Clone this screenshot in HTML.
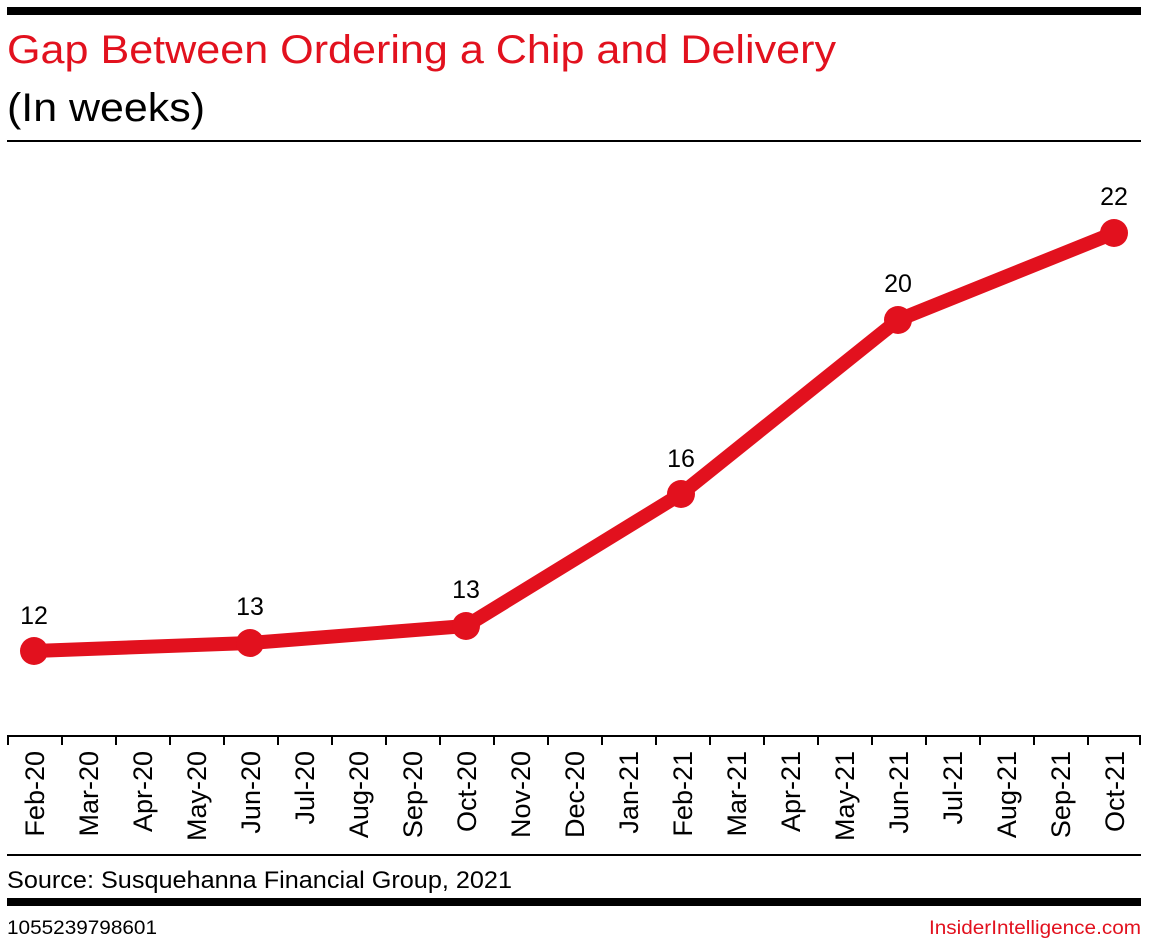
<!DOCTYPE html>
<html><head><style>body{margin:0;background:#fff}svg{display:block}</style></head><body>
<svg width="1149" height="948" xmlns="http://www.w3.org/2000/svg" font-family="Liberation Sans, sans-serif">
<rect x="7" y="7" width="1134" height="8" fill="#000"/>
<text x="7" y="63" font-size="40" fill="#e2111e" textLength="829" lengthAdjust="spacingAndGlyphs">Gap Between Ordering a Chip and Delivery</text>
<text x="7" y="121" font-size="40" fill="#000" textLength="198" lengthAdjust="spacingAndGlyphs">(In weeks)</text>
<rect x="7" y="140" width="1134" height="2" fill="#000"/>
<rect x="7" y="735" width="1134" height="2" fill="#000"/>
<g stroke="#000" stroke-width="2">
<line x1="8" y1="735" x2="8" y2="745"/><line x1="62" y1="735" x2="62" y2="745"/><line x1="116" y1="735" x2="116" y2="745"/><line x1="170" y1="735" x2="170" y2="745"/><line x1="224" y1="735" x2="224" y2="745"/><line x1="278" y1="735" x2="278" y2="745"/><line x1="332" y1="735" x2="332" y2="745"/><line x1="386" y1="735" x2="386" y2="745"/><line x1="440" y1="735" x2="440" y2="745"/><line x1="494" y1="735" x2="494" y2="745"/><line x1="548" y1="735" x2="548" y2="745"/><line x1="602" y1="735" x2="602" y2="745"/><line x1="656" y1="735" x2="656" y2="745"/><line x1="710" y1="735" x2="710" y2="745"/><line x1="764" y1="735" x2="764" y2="745"/><line x1="818" y1="735" x2="818" y2="745"/><line x1="872" y1="735" x2="872" y2="745"/><line x1="926" y1="735" x2="926" y2="745"/><line x1="980" y1="735" x2="980" y2="745"/><line x1="1034" y1="735" x2="1034" y2="745"/><line x1="1088" y1="735" x2="1088" y2="745"/><line x1="1140" y1="735" x2="1140" y2="745"/>
</g>
<g font-size="27" fill="#000" text-anchor="end">
<text transform="translate(44,751) rotate(-90)">Feb-20</text>
<text transform="translate(98,751) rotate(-90)">Mar-20</text>
<text transform="translate(152,751) rotate(-90)">Apr-20</text>
<text transform="translate(206,751) rotate(-90)">May-20</text>
<text transform="translate(260,751) rotate(-90)">Jun-20</text>
<text transform="translate(314,751) rotate(-90)">Jul-20</text>
<text transform="translate(368,751) rotate(-90)">Aug-20</text>
<text transform="translate(422,751) rotate(-90)">Sep-20</text>
<text transform="translate(476,751) rotate(-90)">Oct-20</text>
<text transform="translate(530,751) rotate(-90)">Nov-20</text>
<text transform="translate(584,751) rotate(-90)">Dec-20</text>
<text transform="translate(638,751) rotate(-90)">Jan-21</text>
<text transform="translate(692,751) rotate(-90)">Feb-21</text>
<text transform="translate(746,751) rotate(-90)">Mar-21</text>
<text transform="translate(800,751) rotate(-90)">Apr-21</text>
<text transform="translate(854,751) rotate(-90)">May-21</text>
<text transform="translate(908,751) rotate(-90)">Jun-21</text>
<text transform="translate(962,751) rotate(-90)">Jul-21</text>
<text transform="translate(1016,751) rotate(-90)">Aug-21</text>
<text transform="translate(1070,751) rotate(-90)">Sep-21</text>
<text transform="translate(1124,751) rotate(-90)">Oct-21</text>
</g>
<polyline points="34,651 250,643 466,626 681,494 898,320 1114,233" fill="none" stroke="#e2111e" stroke-width="14" stroke-linejoin="round"/>
<g fill="#e2111e">
<circle cx="34" cy="651" r="14"/><circle cx="250" cy="643" r="14"/><circle cx="466" cy="626" r="14"/><circle cx="681" cy="494" r="14"/><circle cx="898" cy="320" r="14"/><circle cx="1114" cy="233" r="14"/>
</g>
<g font-size="25" fill="#000" text-anchor="middle">
<text x="34" y="624">12</text><text x="250" y="615">13</text><text x="466" y="598">13</text><text x="681" y="467">16</text><text x="898" y="292">20</text><text x="1114" y="205">22</text>
</g>
<rect x="7" y="854" width="1134" height="2" fill="#000"/>
<text x="7" y="888" font-size="24" fill="#000" textLength="505" lengthAdjust="spacingAndGlyphs">Source: Susquehanna Financial Group, 2021</text>
<rect x="7" y="898" width="1134" height="8" fill="#000"/>
<text x="7" y="934" font-size="19" fill="#000" textLength="150" lengthAdjust="spacingAndGlyphs">1055239798601</text>
<text x="1141" y="934" font-size="19" fill="#e2111e" text-anchor="end" textLength="212" lengthAdjust="spacingAndGlyphs">InsiderIntelligence.com</text>
</svg>
</body></html>
